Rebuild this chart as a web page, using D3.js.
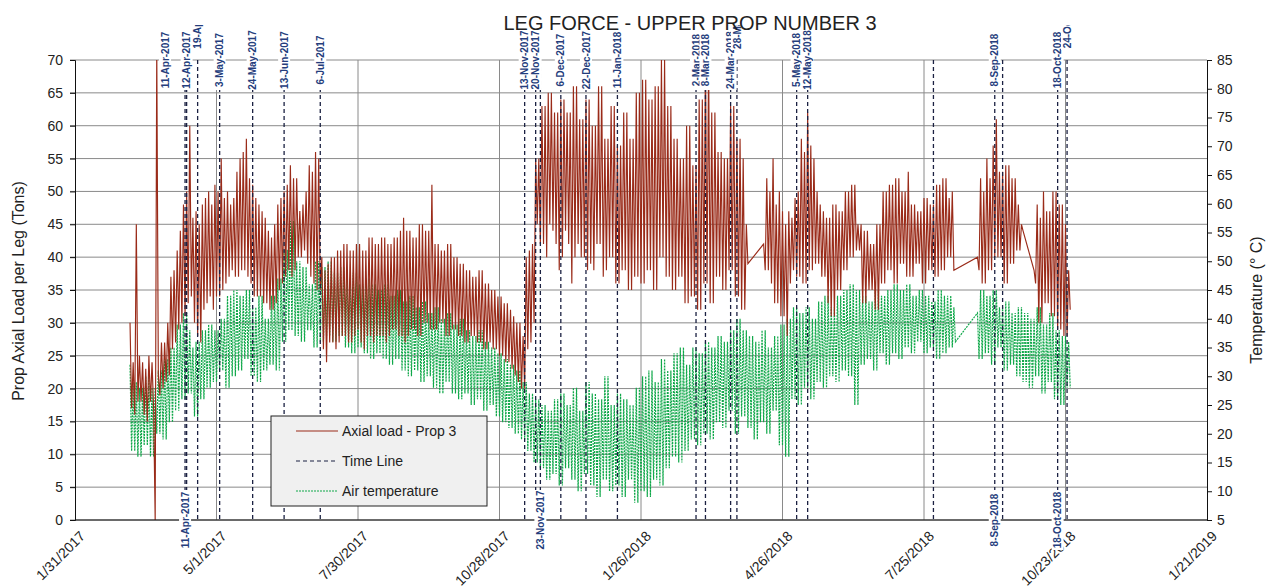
<!DOCTYPE html>
<html>
<head>
<meta charset="utf-8">
<script src="https://cdnjs.cloudflare.com/ajax/libs/d3/7.8.5/d3.min.js"></script>
<style>
  body { margin: 0; background: #fff; }
  svg { font-family: "Liberation Sans", Arial, sans-serif; }
</style>
</head>
<body>
<div class="legForce"></div>
<script>
// axis labels
const xTickLabels = ["1/31/2017", "5/1/2017", "7/30/2017", "10/28/2017", "1/26/2018",
  "4/26/2018", "7/25/2018", "10/23/2018", "1/21/2019"];
const loadTicks = [0, 5, 10, 15, 20, 25, 30, 35, 40, 45, 50, 55, 60, 65, 70];
const tempTicks = [5, 10, 15, 20, 25, 30, 35, 40, 45, 50, 55, 60, 65, 70, 75, 80, 85];

// daily readings (day high / night low), one list per logged stretch (tons)
const loadStarts = ["2017-03-07", "2018-04-14", "2018-08-28", "2018-10-03"];
const loadSeg1 = [
  30,17, 24,16, 45,18, 25,18, 24,16, 23,15, 25,18, 24,17, 0,72, 22,19,
  27,20, 27,21, 30,22, 37,26, 38,27, 41,29, 44,30, 48,31, 50,33, 60,34,
  46,30, 47,28, 45,27, 48,32, 49,33, 50,34, 48,32, 51,34, 50,34, 55,35,
  49,36, 50,37, 48,38, 49,37, 53,37, 55,38, 56,38, 58,37, 52,36, 51,34,
  49,34, 48,34, 47,33, 46,33, 44,32, 43,32, 45,33, 48,35, 49,36, 50,37,
  51,38, 54,37, 52,38, 52,40, 47,40, 48,41, 50,39, 54,37, 53,36, 56,35,
  55,35, 40,26, 38,24, 39,27, 40,27, 40,26, 41,27, 41,28, 42,28, 42,27,
  41,27, 41,28, 42,29, 42,27, 41,26, 41,28, 43,28, 43,27, 42,28, 42,28,
  43,28, 43,27, 42,28, 42,29, 43,29, 43,28, 44,28, 46,27, 44,28, 44,29,
  43,29, 43,28, 45,28, 45,30, 44,30, 44,29, 51,29, 42,29, 42,30, 41,30,
  41,28, 42,28, 42,29, 40,29, 40,28, 39,28, 39,27, 38,27, 38,28, 37,28,
  37,27, 38,27, 38,26, 36,26, 36,27, 35,26, 35,26, 34,25, 34,25, 33,24,
  33,24, 32,23, 31,22, 30,21, 30,20, 28,20, 40,26, 41,27, 42,30, 55,45,
  55,42, 63,42, 63,40, 65,45, 65,44, 62,42, 62,38, 64,40, 64,44, 62,42,
  62,36, 66,40, 66,42, 61,40, 61,40, 64,38, 64,39, 60,38, 60,42, 66,42,
  66,37, 58,38, 58,40, 63,40, 63,36, 57,36, 57,38, 62,38, 62,35, 58,35,
  58,37, 65,37, 65,36, 67,36, 67,38, 64,38, 64,35, 66,35, 66,40, 70,40,
  70,37, 63,37, 63,35, 58,35, 58,37, 55,37, 55,33, 60,33, 60,34, 54,34,
  54,32, 64,32, 64,36, 70,36, 70,33, 62,33, 62,37, 56,37, 56,35, 55,35,
  55,38, 63,38, 63,34, 58,34, 58,32, 55,32, 45,39
];
const loadSeg2 = [
  42,38, 52,38, 50,36, 55,33, 48,33, 50,31, 47,31, 45,28, 47,36, 46,38,
  49,37, 50,37, 58,36, 56,36, 62,38, 57,38, 55,39, 50,39, 48,37, 47,37,
  46,33, 46,31, 48,31, 48,35, 47,35, 47,38, 50,38, 50,40, 51,40, 51,41,
  45,41, 45,33, 44,33, 44,35, 42,35, 42,32, 45,32, 45,36, 50,36, 50,38,
  51,38, 51,36, 52,36, 52,39, 50,39, 50,37, 53,37, 48,37, 48,39, 47,39,
  47,36, 49,36, 49,38, 48,38, 48,37, 51,37, 51,38, 52,38, 52,40, 49,40,
  50,38
];
const loadSeg3 = [40,38, 52,36, 50,36, 55,38, 52,38, 57,40, 61,40, 53,40, 53,36, 54,36,
  54,39, 52,39, 52,41, 48,41, 45,44];
const loadSeg4 = [38,36, 48,30, 46,30, 50,33, 47,33, 47,31, 50,31, 50,29, 48,29, 48,28,
  45,28, 38,32];

// daily air temperature high / low (deg C)
const tempStarts = ["2017-03-07", "2018-08-28"];
const tempSeg1 = [
  32,17, 29,17, 29,16, 28,16, 28,18, 30,18, 30,16, 28,16, 28,20, 31,20,
  31,19, 33,19, 33,22, 35,22, 35,24, 39,24, 39,26, 41,26, 41,27, 38,27,
  35,23, 36,23, 36,26, 38,26, 38,28, 39,28, 39,29, 38,29, 38,31, 40,31,
  40,28, 44,28, 44,30, 45,30, 45,31, 44,31, 44,33, 45,33, 45,30, 42,30,
  42,29, 44,29, 44,31, 40,31, 40,32, 44,32, 44,31, 47,31, 47,36, 52,36,
  52,38, 57,38, 57,37, 50,37, 50,36, 49,36, 49,38, 46,38, 46,35, 50,35,
  50,36, 49,36, 49,37, 50,37, 50,36, 48,36, 48,37, 49,37, 49,35, 47,35,
  47,34, 48,34, 48,35, 46,35, 46,34, 47,34, 47,33, 46,33, 46,34, 45,34,
  45,33, 46,33, 46,32, 44,32, 44,33, 45,33, 45,31, 43,31, 43,30, 44,30,
  44,31, 42,31, 42,29, 43,29, 43,30, 41,30, 41,28, 42,28, 42,27, 40,27,
  40,29, 41,29, 41,27, 39,27, 39,26, 40,26, 40,27, 38,27, 38,25, 37,25,
  37,26, 38,26, 38,24, 36,24, 36,25, 35,25, 35,23, 34,23, 34,22, 33,22,
  33,21, 32,21, 32,20, 31,20, 31,19, 29,19, 29,17, 27,17, 27,15, 26,15,
  26,14, 25,14, 25,12, 24,12, 24,13, 26,13, 26,11, 27,11, 27,14, 25,14,
  25,12, 28,12, 28,10, 24,10, 24,13, 29,13, 29,11, 27,11, 27,9, 26,9,
  26,12, 30,12, 30,10, 25,10, 25,11, 27,11, 27,9, 26,9, 26,12, 25,12,
  25,8, 28,8, 28,10, 30,10, 30,9, 31,9, 31,12, 29,12, 29,11, 33,11,
  33,14, 31,14, 31,16, 34,16, 34,15, 35,15, 35,17, 32,17, 32,19, 35,19,
  35,18, 34,18, 34,20, 36,20, 36,19, 35,19, 35,22, 37,22, 37,21, 36,21,
  36,24, 38,24, 38,20, 40,20, 40,23, 38,23, 38,21, 37,21, 37,19, 36,19,
  36,22, 38,22, 38,20, 35,20, 35,24, 37,24, 37,18, 39,18, 39,16, 40,16,
  40,26, 42,26, 42,25, 41,25, 41,28, 42,28, 42,26, 40,26, 40,29, 43,29,
  43,28, 44,28, 44,30, 42,30, 42,29, 44,29, 44,31, 45,31, 45,30, 46,30,
  46,25, 45,25, 45,32, 44,32, 44,33, 43,33, 43,31, 45,31, 45,34, 44,34,
  44,32, 45,32, 45,34, 46,34, 46,33, 45,33, 45,35, 46,35, 46,34, 44,34,
  44,36, 45,36, 45,34, 44,34, 44,35, 43,35, 43,33, 45,33, 45,34, 44,34,
  44,35, 44,35, 42,36
];
const tempSeg2 = [
  41,33, 45,33, 45,34, 44,34, 44,32, 45,32, 45,35, 42,35, 42,31, 43,31,
  43,32, 41,32, 41,30, 42,30, 42,29, 41,29, 41,28, 40,28, 40,30, 42,30,
  42,27, 39,27, 39,29, 41,29, 41,26, 38,26, 38,25, 37,25, 37,28, 36,28
];

// time line markers
const timeLineDates = ["2017-04-11", "2017-04-12", "2017-04-19", "2017-05-03", "2017-05-24",
  "2017-06-13", "2017-07-06", "2017-11-13", "2017-11-20", "2017-11-23", "2017-12-06",
  "2017-12-22", "2018-01-11", "2018-03-02", "2018-03-08", "2018-03-24", "2018-03-28",
  "2018-05-05", "2018-05-12", "2018-07-31", "2018-09-08", "2018-09-13", "2018-10-18",
  "2018-10-24"];
const topLabelDates = ["2017-04-11", "2017-04-12", "2017-04-19", "2017-05-03", "2017-05-24",
  "2017-06-13", "2017-07-06", "2017-11-13", "2017-11-20", "2017-12-06", "2017-12-22",
  "2018-01-11", "2018-03-02", "2018-03-08", "2018-03-24", "2018-03-28", "2018-05-05",
  "2018-05-12", "2018-09-08", "2018-10-18", "2018-10-24"];
const bottomLabelDates = ["2017-04-11", "2017-11-23", "2018-09-08", "2018-10-18"];

// labels that Excel pushed aside to avoid overlaps [dx, dy]
const labelNudge = {
  "2017-04-11": [-20, 0],
  "2017-04-19": [0, -40],
  "2018-03-28": [0, -40],
  "2018-10-24": [0, -40],
};

const width = 1268,
  height = 587;
const margin = { top: 60, right: 61, bottom: 67, left: 75 };

const parseTick = d3.timeParse("%m/%d/%Y");
const parseDay = d3.timeParse("%Y-%m-%d");
const labelFormat = d3.timeFormat("%-d-%b-%Y");

function toPoints(starts, segs) {
  const pts = [];
  segs.forEach((seg, s) => {
    const start = parseDay(starts[s]);
    seg.forEach((v, i) => pts.push({ date: d3.timeDay.offset(start, i), value: v }));
  });
  return pts;
}

const loadData = toPoints(loadStarts, [loadSeg1, loadSeg2, loadSeg3, loadSeg4]);
const tempData = toPoints(tempStarts, [tempSeg1, tempSeg2]);

const x = d3
  .scaleTime()
  .domain([parseTick(xTickLabels[0]), parseTick(xTickLabels[xTickLabels.length - 1])])
  .range([margin.left, width - margin.right]);
const yLoad = d3.scaleLinear().domain([0, 70]).range([height - margin.bottom, margin.top]);
const yTemp = d3.scaleLinear().domain([5, 85]).range([height - margin.bottom, margin.top]);

const svg = d3
  .select(".legForce")
  .append("svg")
  .attr("width", width)
  .attr("height", height);

const defs = svg.append("defs");
defs.append("clipPath")
  .attr("id", "plotClip")
  .append("rect")
  .attr("x", margin.left)
  .attr("y", margin.top)
  .attr("width", width - margin.left - margin.right)
  .attr("height", height - margin.top - margin.bottom);
defs.append("clipPath")
  .attr("id", "labelClip")
  .append("rect")
  .attr("x", 0)
  .attr("y", 25)
  .attr("width", width)
  .attr("height", height - 25);

// grid
svg.append("g")
  .selectAll("line")
  .data(loadTicks)
  .enter()
  .append("line")
  .attr("x1", margin.left - 5)
  .attr("x2", width - margin.right)
  .attr("y1", (d) => yLoad(d))
  .attr("y2", (d) => yLoad(d))
  .style("stroke", "#8a8a8a")
  .style("stroke-width", 1);

svg.append("g")
  .selectAll("line")
  .data(xTickLabels.slice(1, -1))
  .enter()
  .append("line")
  .attr("x1", (d) => x(parseTick(d)))
  .attr("x2", (d) => x(parseTick(d)))
  .attr("y1", margin.top)
  .attr("y2", height - margin.bottom)
  .style("stroke", "#8a8a8a")
  .style("stroke-width", 1);

// series
const plot = svg.append("g").attr("clip-path", "url(#plotClip)");

plot.append("path")
  .datum(tempData)
  .attr("fill", "none")
  .attr("stroke", "#10a84a")
  .attr("stroke-width", 1.2)
  .attr("stroke-dasharray", "2,1")
  .attr("d", d3.line().x((d) => x(d.date)).y((d) => yTemp(d.value)));

plot.append("path")
  .datum(loadData)
  .attr("fill", "none")
  .attr("stroke", "#9a2b19")
  .attr("stroke-width", 1.15)
  .attr("d", d3.line().x((d) => x(d.date)).y((d) => yLoad(d.value)));

// time lines
svg.append("g")
  .selectAll("line")
  .data(timeLineDates)
  .enter()
  .append("line")
  .attr("x1", (d) => x(parseDay(d)))
  .attr("x2", (d) => x(parseDay(d)))
  .attr("y1", margin.top)
  .attr("y2", height - margin.bottom)
  .style("stroke", "#1b2142")
  .style("stroke-width", 1.3)
  .style("stroke-dasharray", "4,3");

// axes
svg.append("g")
  .attr("transform", `translate(${margin.left},0)`)
  .call(d3.axisLeft(yLoad).tickValues(loadTicks).tickSize(5).tickPadding(7))
  .call((g) => g.selectAll("text").style("font-size", "14px").style("fill", "#222"))
  .call((g) => g.selectAll("line, path").style("stroke", "#111"));

svg.append("g")
  .attr("transform", `translate(${width - margin.right},0)`)
  .call(d3.axisRight(yTemp).tickValues(tempTicks).tickSize(5).tickPadding(5))
  .call((g) => g.selectAll("text").style("font-size", "14px").style("fill", "#222"))
  .call((g) => g.selectAll("line, path").style("stroke", "#111"));

svg.append("line")
  .attr("x1", margin.left)
  .attr("x2", width - margin.right)
  .attr("y1", height - margin.bottom)
  .attr("y2", height - margin.bottom)
  .style("stroke", "#111");

svg.append("g")
  .selectAll("text")
  .data(xTickLabels)
  .enter()
  .append("text")
  .attr("transform", (d) => `translate(${x(parseTick(d)) + 4},${height - margin.bottom + 10}) rotate(-45)`)
  .attr("text-anchor", "end")
  .attr("dy", "0.7em")
  .style("font-size", "14px")
  .style("fill", "#222")
  .text((d) => d);

// time line labels
function dateLabels(dates, yPos) {
  const lab = svg.append("g")
    .attr("clip-path", "url(#labelClip)")
    .selectAll("g")
    .data(dates)
    .enter()
    .append("g")
    .attr("transform", (d) => {
      const n = yPos === margin.top ? labelNudge[d] || [0, 0] : [0, 0];
      return `translate(${x(parseDay(d)) + n[0]},${yPos + n[1]}) rotate(-90)`;
    });
  lab.append("rect")
    .attr("x", -30)
    .attr("y", -6)
    .attr("width", 60)
    .attr("height", 12)
    .style("fill", "#fff");
  lab.append("text")
    .attr("text-anchor", "middle")
    .attr("dy", "0.36em")
    .style("font-size", "10px")
    .style("font-weight", "bold")
    .style("fill", "#253d7c")
    .text((d) => labelFormat(parseDay(d)));
}
dateLabels(topLabelDates, margin.top);
dateLabels(bottomLabelDates, height - margin.bottom);

// legend
const legendItems = ["Axial load - Prop 3", "Time Line", "Air temperature"];
const legendColors = ["#9a2b19", "#1b2142", "#10a84a"];
const legendDash = [null, "4,3", "2,1"];

const legend = svg.append("g").attr("transform", "translate(271,416)");
legend.append("rect")
  .attr("width", 216)
  .attr("height", 90)
  .style("fill", "#f0f0f0")
  .style("stroke", "#222");
legend.selectAll("line")
  .data(legendItems)
  .enter()
  .append("line")
  .attr("x1", 25)
  .attr("x2", 67)
  .attr("y1", (_, i) => 15 + 30 * i)
  .attr("y2", (_, i) => 15 + 30 * i)
  .style("stroke", (_, i) => legendColors[i])
  .style("stroke-width", 1.2)
  .style("stroke-dasharray", (_, i) => legendDash[i]);
legend.selectAll("text")
  .data(legendItems)
  .enter()
  .append("text")
  .attr("x", 71)
  .attr("y", (_, i) => 15 + 30 * i)
  .attr("dy", "0.35em")
  .style("font-size", "14px")
  .style("fill", "#222")
  .text((d) => d);

// titles
svg.append("text")
  .attr("x", 690)
  .attr("y", 30)
  .attr("text-anchor", "middle")
  .style("font-size", "20px")
  .style("fill", "#222")
  .text("LEG FORCE - UPPER PROP NUMBER 3");

svg.append("text")
  .attr("transform", "translate(24,291) rotate(-90)")
  .attr("text-anchor", "middle")
  .style("font-size", "16px")
  .style("fill", "#222")
  .text("Prop Axial Load per Leg (Tons)");

svg.append("text")
  .attr("transform", "translate(1262,300) rotate(-90)")
  .attr("text-anchor", "middle")
  .style("font-size", "16px")
  .style("fill", "#222")
  .text("Temperature (° C)");
</script>
</body>
</html>
